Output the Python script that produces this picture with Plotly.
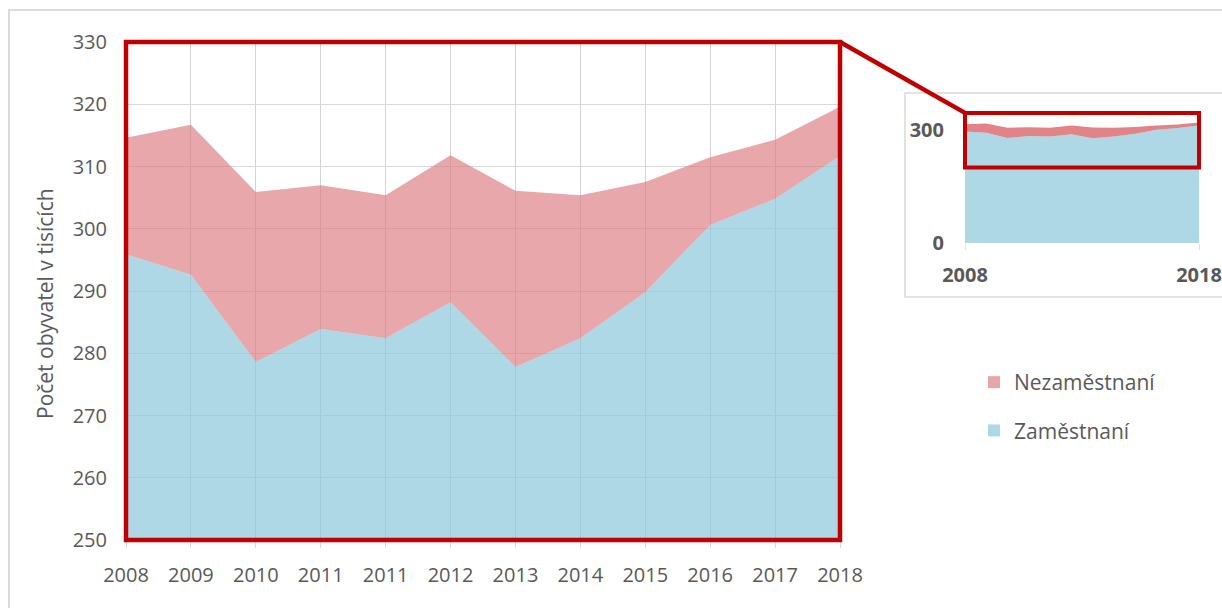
import plotly.graph_objects as go

# ---- data (thousands of inhabitants) ----
years = ["2008", "2009", "2010", "2011", "2011", "2012", "2013", "2014", "2015", "2016", "2017", "2018"]
employed = [295.9, 292.6, 278.6, 283.9, 282.4, 288.2, 277.8, 282.4, 289.8, 300.6, 304.8, 311.7]
unemployed = [18.7, 24.1, 27.3, 23.1, 23.0, 23.6, 28.3, 23.0, 17.7, 10.9, 9.5, 7.9]
y_ticks_main = [250, 260, 270, 280, 290, 300, 310, 320, 330]
inset_ticks = [0, 300]
zoom_box = [200, 345]  # value range of the inset highlight box

OFF = 0  # page body margin is removed by the post script below
W, H = 1222, 608
idx = list(range(len(years)))


def px(x):
    return (x - OFF) / W


def py(y):
    return 1 - (y - OFF) / H


RED_FILL = "rgba(220,120,125,0.65)"
BLUE_FILL = "rgba(140,200,220,0.7)"
DARK_RED = "#c00000"
GRAY = "#595959"
FONT = "Open Sans"

# domains (paper fractions)
mx0, mx1 = px(126), px(840)
my0, my1 = py(540), py(42)
ix0, ix1 = px(965), px(1199)
iy0, iy1 = py(243), py(111)
inset_range = [0, 350]

fig = go.Figure()

# main chart
fig.add_trace(go.Scatter(x=idx, y=employed, stackgroup="main", mode="none",
                         fillcolor=BLUE_FILL, name="Zaměstnaní", showlegend=False,
                         xaxis="x", yaxis="y", hoverinfo="skip"))
fig.add_trace(go.Scatter(x=idx, y=unemployed, stackgroup="main", mode="none",
                         fillcolor=RED_FILL, name="Nezaměstnaní", showlegend=False,
                         xaxis="x", yaxis="y", hoverinfo="skip"))
# inset chart
fig.add_trace(go.Scatter(x=idx, y=employed, stackgroup="inset", mode="none",
                         fillcolor=BLUE_FILL, showlegend=False,
                         xaxis="x2", yaxis="y2", hoverinfo="skip"))
fig.add_trace(go.Scatter(x=idx, y=unemployed, stackgroup="inset", mode="none",
                         fillcolor="rgba(215,90,95,0.75)", showlegend=False,
                         xaxis="x2", yaxis="y2", hoverinfo="skip"))
# legend entries (square icons)
fig.add_trace(go.Scatter(x=[None], y=[None], mode="markers", name="Nezaměstnaní",
                         legendgroup="a",
                         marker=dict(symbol="square", size=13, color="#e8a6a8"),
                         xaxis="x", yaxis="y"))
fig.add_trace(go.Scatter(x=[None], y=[None], mode="markers", name="Zaměstnaní",
                         legendgroup="b",
                         marker=dict(symbol="square", size=13, color="#add8e6"),
                         xaxis="x", yaxis="y"))


# inset highlight box position in paper coords
def inset_y(v):
    return iy0 + (v - inset_range[0]) / (inset_range[1] - inset_range[0]) * (iy1 - iy0)


bx0, bx1 = ix0, ix1
by0, by1 = inset_y(zoom_box[0]), inset_y(zoom_box[1])

shapes = [
    # outer chart frame
    dict(type="rect", xref="paper", yref="paper", x0=px(9), x1=1.05, y0=-0.05, y1=py(10),
         line=dict(color="#d9d9d9", width=2), layer="below"),
    # inset frame
    dict(type="rect", xref="paper", yref="paper", x0=px(905), x1=1.05, y0=py(297), y1=py(93),
         line=dict(color="#d9d9d9", width=1.5), fillcolor="white", layer="below"),
    # main highlight frame
    dict(type="rect", xref="paper", yref="paper", x0=mx0, x1=mx1, y0=my0, y1=my1,
         line=dict(color=DARK_RED, width=4.5)),
    # connector
    dict(type="line", xref="paper", yref="paper", x0=mx1, y0=my1, x1=bx0, y1=by1,
         line=dict(color=DARK_RED, width=4.5)),
    # inset highlight box
    dict(type="rect", xref="paper", yref="paper", x0=bx0, x1=bx1, y0=by0, y1=by1,
         line=dict(color=DARK_RED, width=4)),
]

fig.update_layout(
    width=W, height=H, autosize=False,
    margin=dict(l=0, r=0, t=0, b=0, pad=0),
    paper_bgcolor="white", plot_bgcolor="rgba(0,0,0,0)",
    font=dict(family=FONT, color=GRAY, size=20),
    showlegend=True,
    legend=dict(x=px(974), y=py(362), xanchor="left", yanchor="top",
                font=dict(family=FONT, size=21, color=GRAY),
                bgcolor="rgba(0,0,0,0)", traceorder="grouped", tracegroupgap=18,
                itemsizing="constant"),
    xaxis=dict(domain=[mx0, mx1], range=[0, len(years) - 1], tickmode="array",
               tickvals=idx, ticktext=years, showgrid=True, gridcolor="#d3d3d3",
               gridwidth=1, zeroline=False, showline=True, linecolor="#7f7f7f",
               ticks="outside", ticklen=7, tickcolor="#d9d9d9", automargin=False,
               tickfont=dict(size=20, color=GRAY), ticklabelstandoff=10, anchor="y"),
    yaxis=dict(domain=[my0, my1], range=[250, 330], tickmode="array",
               tickvals=y_ticks_main, showgrid=True, gridcolor="#d9d9d9", gridwidth=1,
               zeroline=False, showline=False, ticks="", automargin=False,
               tickfont=dict(size=20, color=GRAY), ticklabelstandoff=18, anchor="x"),
    xaxis2=dict(domain=[ix0, ix1], range=[0, len(years) - 1], tickmode="array",
                tickvals=[0, len(years) - 1], ticktext=[years[0], years[-1]],
                showgrid=False, zeroline=False, showline=False, ticks="outside",
                ticklen=6, tickcolor="#e0e0e0", automargin=False,
                ticklabeloverflow="allow",
                tickfont=dict(size=20, color=GRAY, family=FONT, weight="bold"),
                ticklabelstandoff=8, anchor="y2"),
    yaxis2=dict(domain=[iy0, iy1], range=inset_range, tickmode="array",
                tickvals=inset_ticks, showgrid=False, zeroline=False, showline=False,
                automargin=False,
                tickfont=dict(size=20, color=GRAY, family=FONT, weight="bold"),
                ticklabelstandoff=20, anchor="x2"),
    shapes=shapes,
    annotations=[dict(text="Počet obyvatel v tisících", xref="paper", yref="paper",
                      x=px(45), y=py(304), textangle=-90, showarrow=False,
                      font=dict(size=21, color=GRAY, family=FONT),
                      xanchor="center", yanchor="middle")],
)

fig.write_html(
    "out.html",
    config={"displayModeBar": False},
    post_script="document.body.style.margin='0';document.body.style.overflow='hidden';",
)
